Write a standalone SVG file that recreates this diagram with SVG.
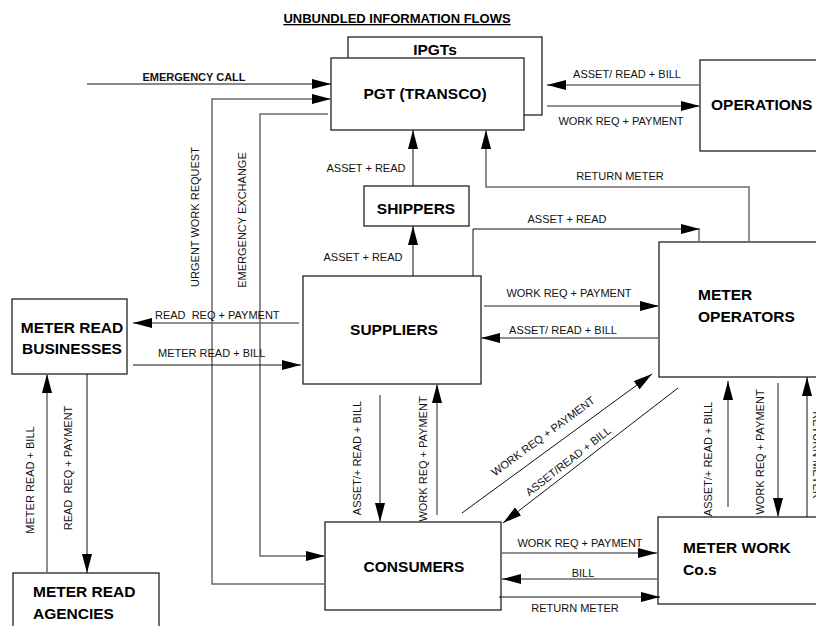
<svg xmlns="http://www.w3.org/2000/svg" width="816" height="626" viewBox="0 0 816 626">
<defs>
<marker id="ah" markerWidth="19" markerHeight="10" refX="19" refY="5" orient="auto" markerUnits="userSpaceOnUse"><path d="M0,0 L19,5 L0,10 z" fill="#000"/></marker>
<style>
.box{fill:#fff;stroke:#222;stroke-width:1.3}
.g{fill:none;stroke:#6a6a6a;stroke-width:1.5}
.k{fill:none;stroke:#111;stroke-width:1}
.t{font-family:"Liberation Sans",Arial,sans-serif;font-weight:bold;font-size:15.5px;fill:#000}
.l{font-family:"Liberation Sans",Arial,sans-serif;font-size:11px;fill:#111}
.c{text-anchor:middle}
</style>
</defs>
<rect width="816" height="626" fill="#fff"/>
<text class="t c" x="397" y="23" style="font-size:13px;text-decoration:underline">UNBUNDLED INFORMATION FLOWS</text>

<g id="ipgts"><rect class="box" x="348" y="37" width="194" height="78"/><text class="t c" x="435" y="55">IPGTs</text></g>
<g id="pgt"><rect class="box" x="331" y="58" width="193" height="72"/><text class="t c" x="425" y="99">PGT (TRANSCO)</text></g>
<g id="operations"><rect class="box" x="700" y="60" width="130" height="91"/><text class="t" x="711" y="110">OPERATIONS</text></g>
<g id="shippers"><rect class="box" x="364" y="186" width="105" height="40"/><text class="t c" x="416" y="214">SHIPPERS</text></g>
<g id="suppliers"><rect class="box" x="303" y="276" width="178" height="108"/><text class="t c" x="394" y="335">SUPPLIERS</text></g>
<g id="meter-operators"><rect class="box" x="659" y="242" width="170" height="135"/><text class="t" x="698" y="300">METER</text><text class="t" x="698" y="322">OPERATORS</text></g>
<g id="meter-read-businesses"><rect class="box" x="12" y="299" width="115" height="75"/><text class="t c" x="72" y="333">METER READ</text><text class="t c" x="72" y="354">BUSINESSES</text></g>
<g id="meter-read-agencies"><rect class="box" x="13" y="573" width="146" height="70"/><text class="t" x="33" y="597">METER READ</text><text class="t" x="33" y="619">AGENCIES</text></g>
<g id="consumers"><rect class="box" x="325" y="522" width="176" height="88"/><text class="t c" x="414" y="572">CONSUMERS</text></g>
<g id="meter-work-cos"><rect class="box" x="658" y="517" width="170" height="87"/><text class="t" x="683" y="553">METER WORK</text><text class="t" x="683" y="575">Co.s</text></g>

<g id="connectors">
<path class="k" d="M87,84 H331" marker-end="url(#ah)"/>
<path class="g" d="M325,584 H212 V99 H331" marker-end="url(#ah)"/>
<path class="g" d="M328,114 H260 V556 H325" marker-end="url(#ah)"/>
<path class="g" d="M547,106 H700" marker-end="url(#ah)"/>
<path class="g" d="M700,85 H547" marker-end="url(#ah)"/>
<path class="k" d="M413,186 V130" marker-end="url(#ah)"/>
<path class="k" d="M413,276 V226" marker-end="url(#ah)"/>
<path class="g" d="M749,242 V187 H486 V130" marker-end="url(#ah)"/>
<path class="k" d="M473,276 V229 H700" marker-end="url(#ah)"/>
<path class="g" d="M699,229 V242"/>
<path class="g" d="M484,306 H659" marker-end="url(#ah)"/>
<path class="g" d="M658,338 H481" marker-end="url(#ah)"/>
<path class="g" d="M299,323 H133" marker-end="url(#ah)"/>
<path class="k" d="M133,365 H301" marker-end="url(#ah)"/>
<path class="g" d="M47,573 V374" marker-end="url(#ah)"/>
<path class="k" d="M87,374 V573" marker-end="url(#ah)"/>
<path class="g" d="M380,395 V522" marker-end="url(#ah)"/>
<path class="g" d="M437,515 V384" marker-end="url(#ah)"/>
<path class="k" d="M462,513 L652,374" marker-end="url(#ah)"/>
<path class="k" d="M678,388 L503,523" marker-end="url(#ah)"/>
<path class="g" d="M502,553 H657" marker-end="url(#ah)"/>
<path class="g" d="M657,579 H502" marker-end="url(#ah)"/>
<path class="k" d="M499,597 H660" marker-end="url(#ah)"/>
<path class="g" d="M728,507 V381" marker-end="url(#ah)"/>
<path class="g" d="M778,383 V517" marker-end="url(#ah)"/>
<path class="k" d="M807,517 V377" marker-end="url(#ah)"/>
</g>

<g id="labels">
<text class="l c" x="194" y="81" font-weight="bold">EMERGENCY CALL</text>
<text class="l c" x="627" y="78">ASSET/ READ + BILL</text>
<text class="l c" x="621" y="125">WORK REQ + PAYMENT</text>
<text class="l c" x="366" y="172">ASSET + READ</text>
<text class="l c" x="620" y="180">RETURN METER</text>
<text class="l c" x="567" y="223">ASSET + READ</text>
<text class="l c" x="363" y="261">ASSET + READ</text>
<text class="l c" x="569" y="297">WORK REQ + PAYMENT</text>
<text class="l c" x="563" y="334">ASSET/ READ + BILL</text>
<text class="l" x="155" y="319" xml:space="preserve">READ  REQ + PAYMENT</text>
<text class="l" x="158" y="357">METER READ + BILL</text>
<text class="l c" transform="translate(199,217) rotate(-90)">URGENT WORK REQUEST</text>
<text class="l c" transform="translate(246,220) rotate(-90)">EMERGENCY EXCHANGE</text>
<text class="l c" transform="translate(34,480) rotate(-90)">METER READ + BILL</text>
<text class="l c" transform="translate(72,468) rotate(-90)" xml:space="preserve">READ  REQ + PAYMENT</text>
<text class="l c" transform="translate(361,458) rotate(-90)">ASSET/+ READ + BILL</text>
<text class="l c" transform="translate(427,459) rotate(-90)">WORK REQ + PAYMENT</text>
<text class="l c" transform="translate(543,436) rotate(-36.5)" y="4">WORK REQ + PAYMENT</text>
<text class="l c" transform="translate(568,461) rotate(-38)" y="4">ASSET/READ + BILL</text>
<text class="l c" x="580" y="547">WORK REQ + PAYMENT</text>
<text class="l c" x="583" y="577">BILL</text>
<text class="l c" x="575" y="612">RETURN METER</text>
<text class="l c" transform="translate(712,459) rotate(-90)">ASSET/+ READ + BILL</text>
<text class="l c" transform="translate(764,452) rotate(-90)">WORK REQ + PAYMENT</text>
<text class="l c" transform="translate(813,455) rotate(90)">RETURN METER</text>
</g>
</svg>
